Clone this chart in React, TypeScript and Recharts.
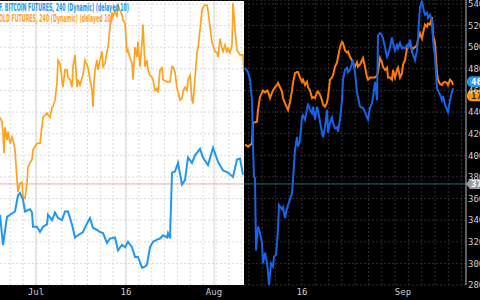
import { ComposedChart, Line, XAxis, YAxis, CartesianGrid, ReferenceLine } from 'recharts'

// x = 4h bar number, y = price scale shown on the right axis
const tickBars = [36, 126, 214, 302, 403]
const tickLabels = ['Jul', '16', 'Aug', '16', 'Sep']
const priceTicks = [280, 300, 320, 340, 360, 380, 400, 420, 440, 460, 480, 500, 520, 540]
const refLevel = 373.5

// left (white) panel
const btcLeftBar = [0, 3, 7, 10, 15, 18, 20, 23, 25, 30, 32, 33, 37, 40, 43, 47, 48, 52, 55, 58, 62, 65, 68, 72, 75, 78, 83, 87, 90, 93, 97, 100, 103, 107, 110, 115, 118, 122, 125, 128, 132, 135, 138, 142, 145, 147, 150, 153, 157, 160, 163, 167, 168, 170, 172, 175, 178, 182, 185, 188, 192, 195, 200, 203, 208, 213, 218, 223, 228, 233, 237, 240, 243]
const btcLeft = [345, 317, 343, 345, 348, 363, 365, 359, 348, 350, 347, 334, 334, 329, 334, 336, 345, 340, 347, 342, 340, 348, 348, 336, 324, 326, 329, 337, 342, 333, 331, 329, 328, 319, 323, 324, 312, 317, 315, 320, 315, 306, 306, 296, 297, 299, 315, 320, 322, 323, 326, 324, 328, 323, 384, 385, 393, 373, 377, 398, 393, 400, 406, 398, 391, 407, 394, 386, 384, 380, 396, 397, 382]

const goldLeftBar = [0, 2, 3, 4, 5, 7, 8, 10, 12, 13, 15, 17, 18, 20, 22, 23, 25, 27, 28, 30, 32, 33, 37, 40, 43, 47, 50, 52, 53, 55, 57, 58, 60, 62, 63, 65, 67, 68, 70, 72, 73, 75, 77, 78, 80, 82, 83, 85, 87, 88, 90, 92, 93, 94, 95, 97, 98, 100, 102, 103, 105, 107, 108, 110, 112, 113, 115, 117, 118, 120, 122, 123, 125, 127, 128, 130, 132, 133, 135, 137, 138, 140, 142, 143, 145, 147, 148, 150, 152, 153, 155, 157, 158, 160, 162, 163, 167, 170, 172, 173, 175, 177, 178, 180, 182, 183, 185, 187, 188, 190, 192, 193, 195, 197, 198, 200, 202, 203, 205, 207, 208, 210, 212, 213, 215, 217, 218, 220, 222, 223, 225, 227, 228, 230, 232, 233, 235, 237, 240, 243, 244]
const goldLeft = [435, 431, 421, 402, 426, 414, 422, 411, 417, 414, 405, 377, 366, 374, 375, 361, 360, 374, 389, 393, 396, 405, 411, 411, 435, 439, 435, 444, 445, 451, 467, 488, 485, 470, 463, 479, 479, 472, 470, 463, 482, 493, 463, 470, 465, 472, 474, 488, 484, 481, 470, 460, 445, 467, 479, 488, 479, 488, 496, 482, 485, 496, 500, 519, 532, 528, 534, 528, 539, 534, 530, 525, 522, 495, 497, 490, 485, 470, 500, 491, 505, 482, 504, 521, 482, 488, 479, 474, 472, 470, 460, 462, 458, 479, 481, 470, 468, 468, 482, 482, 477, 462, 459, 451, 453, 459, 463, 460, 470, 474, 451, 448, 472, 495, 499, 516, 534, 537, 539, 539, 534, 519, 504, 502, 496, 495, 491, 508, 499, 496, 502, 495, 499, 495, 502, 541, 516, 497, 493, 493, 477]

// right (black) panel
const btcRightBar = [245, 248, 250, 252, 253, 254, 255, 256, 258, 260, 262, 263, 265, 267, 268, 269, 271, 273, 274, 276, 278, 279, 282, 283, 285, 287, 288, 290, 292, 293, 295, 297, 298, 300, 302, 303, 305, 307, 308, 310, 312, 313, 315, 317, 318, 320, 322, 323, 325, 327, 328, 330, 332, 333, 335, 337, 338, 340, 342, 343, 345, 347, 348, 350, 352, 353, 355, 357, 358, 360, 362, 363, 365, 367, 368, 370, 372, 373, 375, 377, 378, 380, 382, 383, 385, 387, 388, 390, 392, 393, 395, 397, 398, 400, 402, 403, 405, 407, 408, 410, 412, 413, 415, 417, 418, 420, 422, 423, 425, 427, 428, 430, 432, 433, 435, 437, 440, 442, 443, 445, 447, 448, 450, 452, 453]
const btcRight = [481, 477, 470, 451, 408, 380, 379, 312, 334, 328, 319, 300, 310, 300, 292, 280, 300, 297, 306, 308, 331, 354, 350, 352, 342, 351, 354, 359, 365, 377, 405, 417, 408, 414, 435, 437, 433, 442, 448, 442, 439, 445, 433, 445, 442, 431, 421, 417, 426, 442, 421, 430, 435, 430, 425, 426, 422, 433, 451, 470, 479, 481, 477, 479, 485, 488, 477, 458, 454, 445, 444, 444, 440, 435, 433, 444, 448, 454, 468, 451, 511, 513, 511, 508, 500, 491, 493, 500, 509, 504, 497, 502, 499, 504, 499, 500, 499, 502, 500, 507, 497, 493, 488, 497, 509, 537, 543, 537, 530, 532, 527, 530, 525, 507, 491, 462, 456, 451, 455, 447, 442, 440, 451, 459, 462]

const goldRightBar = [245, 248, 252, 253, 257, 258, 260, 262, 263, 265, 267, 268, 270, 272, 273, 275, 277, 278, 280, 282, 283, 285, 287, 288, 290, 292, 293, 295, 297, 298, 300, 302, 303, 305, 307, 308, 310, 312, 313, 315, 317, 318, 320, 322, 323, 325, 327, 328, 330, 332, 333, 335, 337, 338, 340, 342, 343, 345, 347, 348, 350, 352, 353, 355, 357, 358, 360, 362, 363, 365, 367, 368, 370, 372, 373, 375, 377, 378, 380, 382, 383, 385, 387, 388, 390, 392, 393, 395, 397, 398, 400, 402, 403, 405, 407, 408, 410, 412, 413, 415, 417, 418, 420, 422, 423, 425, 427, 428, 430, 432, 433, 435, 437, 438, 440, 442, 443, 445, 447, 448, 450, 452, 453]
const goldRight = [410, 408, 411, 430, 431, 442, 454, 458, 460, 458, 460, 459, 453, 458, 460, 463, 465, 467, 463, 459, 453, 448, 444, 442, 449, 460, 467, 476, 477, 477, 472, 468, 470, 465, 468, 463, 460, 453, 454, 453, 458, 459, 456, 451, 447, 445, 449, 454, 470, 472, 474, 482, 486, 491, 500, 505, 504, 497, 495, 496, 491, 488, 485, 482, 486, 482, 484, 488, 490, 482, 472, 470, 472, 472, 472, 472, 474, 477, 490, 486, 482, 479, 481, 472, 472, 470, 479, 472, 479, 481, 472, 476, 484, 488, 499, 500, 504, 497, 499, 500, 502, 507, 513, 508, 513, 521, 519, 522, 521, 528, 511, 504, 476, 470, 466, 465, 467, 468, 467, 465, 470, 468, 465]

const gridLeft = Array.from({ length: 19 }, (_, i) => 10.3 + i * 12.86)
const gridRight = Array.from({ length: 17 }, (_, i) => 248.8 + i * 13.3)

const pts = (bars: number[], vals: number[]) => bars.map((b, i) => ({ bar: b, v: vals[i] }))

const axisFont = { fill: '#cfcfcf', fontSize: 9, fontFamily: 'DejaVu Sans Mono' }

function PriceTag({ viewBox, fill, color, text, arrow }: any) {
  if (!viewBox) return null
  const x = viewBox.x + viewBox.width
  const y = viewBox.y
  return (
    <g>
      {arrow ? (
        <path d={`M${x},${y} L${x + 4},${y - 5} L${x + 16},${y - 5} L${x + 16},${y + 5} L${x + 4},${y + 5} Z`} fill={fill} />
      ) : (
        <rect x={x + 1} y={y - 5.5} width={20} height={11} rx={5} fill={fill} />
      )}
      <text x={x + 5} y={y + 3.5} fill={color} fontSize={9} fontWeight="bold" fontFamily="DejaVu Sans Mono">{text}</text>
    </g>
  )
}

export default function App() {
  return (
    <div style={{ position: 'absolute', left: 0, top: 0, width: 480, height: 300, background: '#000', overflow: 'hidden' }}>
      <ComposedChart width={480} height={300} margin={{ top: 0, right: 0, bottom: 0, left: 0 }}>
        <CartesianGrid stroke="#2e2e2e" strokeDasharray="2 2" vertical={false} />
        <XAxis type="number" dataKey="bar" domain={[0, 466]} ticks={tickBars} interval={0} allowDataOverflow
          tickFormatter={(b) => tickLabels[tickBars.indexOf(b)] ?? ''} height={15}
          axisLine={false} tickLine={false} tickSize={0} tickMargin={4} tick={axisFont} />
        <YAxis orientation="right" domain={[280, 543.7]} ticks={priceTicks} interval={0} allowDataOverflow width={14}
          axisLine={{ stroke: '#bdbdbd' }} tickLine={false} tickSize={0} tickMargin={2} tick={axisFont} />
        {gridRight.map((b) => (
          <ReferenceLine key={b} x={b} stroke="#2e2e2e" strokeDasharray="2 2" />
        ))}
        <ReferenceLine y={refLevel} stroke="#16706c" />
        <Line data={pts(goldRightBar, goldRight)} dataKey="v" stroke="#ff7b00" strokeWidth={2} dot={false} isAnimationActive={false} />
        <Line data={pts(btcRightBar, btcRight)} dataKey="v" stroke="#1463e8" strokeWidth={2} dot={false} isAnimationActive={false} />
        <ReferenceLine y={468} stroke="none" ifOverflow="visible" label={<PriceTag fill="#2196f3" color="#fff" text="4652" />} />
        <ReferenceLine y={455} stroke="none" ifOverflow="visible" label={<PriceTag fill="#ff9800" color="#222" text="1723" />} />
        <ReferenceLine y={refLevel} stroke="none" ifOverflow="visible" label={<PriceTag fill="#9a9a9a" color="#fff" text="3735" arrow />} />
      </ComposedChart>

      <div style={{ position: 'absolute', left: 0, top: 1, width: 244, height: 284, overflow: 'hidden', background: '#fff' }}>
        <div style={{ position: 'absolute', left: 0, top: -1 }}>
          <ComposedChart width={480} height={300} margin={{ top: 0, right: 14, bottom: 15, left: 0 }}>
            <XAxis hide type="number" dataKey="bar" domain={[0, 466]} allowDataOverflow />
            <YAxis hide domain={[280, 543.7]} allowDataOverflow />
            {priceTicks.map((p) => (
              <ReferenceLine key={p} y={p} stroke="#dadada" strokeDasharray="2 2" />
            ))}
            {gridLeft.map((b) => (
              <ReferenceLine key={b} x={b} stroke="#dadada" strokeDasharray="2 2" />
            ))}
            {tickBars.slice(0, 3).map((b) => (
              <ReferenceLine key={'t' + b} x={b} stroke="#d4d4d4" />
            ))}
            <ReferenceLine y={refLevel} stroke="#f6a5a5" />
            <Line data={pts(goldLeftBar, goldLeft)} dataKey="v" stroke="#ffa21f" strokeWidth={1.7} dot={false} isAnimationActive={false} />
            <Line data={pts(btcLeftBar, btcLeft)} dataKey="v" stroke="#2196f3" strokeWidth={2} dot={false} isAnimationActive={false} />
          </ComposedChart>
        </div>
      </div>

      <svg width={240} height={26} style={{ position: 'absolute', left: 0, top: 0 }}>
        <text x={-1} y={10.5} textLength={130} lengthAdjust="spacingAndGlyphs" fill="#2196f3" fontSize={10} fontWeight="bold"
          fontFamily="Liberation Sans Narrow, DejaVu Sans Condensed, sans-serif">F. BITCOIN FUTURES, 240 (Dynamic) (delayed 10)</text>
        <text x={-1} y={21.5} textLength={114} lengthAdjust="spacingAndGlyphs" fill="#ffa21f" fontSize={10} fontWeight="bold"
          fontFamily="Liberation Sans Narrow, DejaVu Sans Condensed, sans-serif">OLD FUTURES, 240 (Dynamic) (delayed 10)</text>
      </svg>
    </div>
  )
}
